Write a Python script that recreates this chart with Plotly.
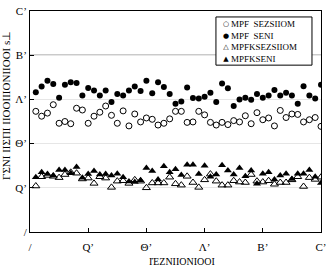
import plotly.graph_objects as go

x_vals = list(range(1, 51))

mpf_open_circ = [27.3, 26.2, 26.9, 28.8, 24.6, 25.0, 24.5, 28.0, 27.6, 24.6,
                 26.2, 27.1, 28.5, 26.4, 24.6, 27.4, 24.0, 26.7, 24.9, 25.8,
                 25.5, 24.2, 24.6, 25.6, 27.3, 27.3, 24.8, 24.9, 27.3, 26.5,
                 24.8, 24.2, 24.8, 24.3, 25.2, 24.9, 26.3, 24.5, 27.0, 25.4,
                 25.8, 24.0, 27.5, 25.9, 26.7, 26.6, 24.9, 25.4, 25.9, 23.9]

mpf_fill_circ = [31.6, 32.9, 34.2, 33.5, 30.4, 33.3, 33.9, 33.7, 30.9, 32.6,
                 32.0, 30.9, 32.0, 29.4, 31.2, 30.9, 32.0, 32.9, 31.9, 34.2,
                 31.4, 33.9, 32.8, 31.2, 29.0, 29.5, 32.7, 30.3, 30.2, 30.6,
                 31.5, 29.4, 33.6, 32.5, 28.5, 30.0, 30.4, 29.9, 31.2, 30.4,
                 30.9, 32.1, 30.9, 31.5, 30.9, 29.0, 33.0, 30.9, 30.2, 33.3]

mpfk_open_tri = [10.4, 12.5, 12.8, 12.6, 12.3, 13.0, 13.5, 13.3, 12.0, 12.2,
                 11.0, 12.5, 12.2, 10.1, 11.5, 11.6, 11.0, 11.8, 11.5, 10.0,
                 11.1, 11.1, 11.1, 12.4, 10.9, 10.6, 12.6, 11.2, 10.1, 11.8,
                 13.1, 11.5, 10.6, 10.6, 11.6, 11.3, 11.2, 13.0, 11.5, 11.3,
                 11.6, 10.8, 11.2, 11.2, 11.8, 12.5, 10.3, 12.3, 11.9, 12.4]

mpfk_fill_tri = [12.4, 13.5, 13.1, 12.8, 14.0, 14.0, 13.3, 14.7, 12.3, 13.1,
                 13.8, 13.0, 13.1, 12.8, 13.2, 12.4, 11.4, 11.3, 11.7, 14.5,
                 13.8, 11.9, 14.9, 13.5, 14.2, 12.9, 15.2, 15.2, 13.1, 15.0,
                 12.5, 13.0, 15.1, 13.9, 13.0, 14.5, 12.6, 13.9, 10.9, 13.2,
                 13.5, 11.9, 12.8, 13.2, 12.0, 13.2, 13.2, 14.0, 12.5, 11.1]

tick_vals = [0, 10, 20, 30, 40, 50]
tick_text = ["/", "Q\u2019", "\u0398\u2019", "\u039b\u2019", "B\u2019", "C\u2019"]

series_names = ["MPF  SEZSIIOM", "MPF  SENI", "MPFKSEZSIIOM", "MPFKSENI"]
legend_symbols = ["\u25cb", "\u25cf", "\u25b3", "\u25b2"]

x_title = "\u0399\u0388\u0396\u039d\u0399\u0399\u039f\u039d\u0399\u039f\u039f\u0399"
y_title = ("\u0393\u03a3\u039d\u0399 \u0399\u0399\u03a3\u03a0\u0399 "
           "\u0399\u0399\u039f\u039f\u0399\u0399\u0399\u039f\u039d\u0399\u0399\u039f\u039f\u0399 s\u22a5")

FONT = "Liberation Serif"

fig = go.Figure()
fig.add_trace(go.Scatter(x=x_vals, y=mpf_open_circ, mode="markers", name=series_names[0],
                         marker=dict(symbol="circle-open", size=6, color="black",
                                     line=dict(width=1, color="black"))))
fig.add_trace(go.Scatter(x=x_vals, y=mpf_fill_circ, mode="markers", name=series_names[1],
                         marker=dict(symbol="circle", size=6, color="black")))
fig.add_trace(go.Scatter(x=x_vals, y=mpfk_open_tri, mode="markers", name=series_names[2],
                         marker=dict(symbol="triangle-up-open", size=7, color="black",
                                     line=dict(width=1, color="black"))))
fig.add_trace(go.Scatter(x=x_vals, y=mpfk_fill_tri, mode="markers", name=series_names[3],
                         marker=dict(symbol="triangle-up", size=7, color="black")))

fig.add_hline(y=40, line=dict(color="#555555", width=1), layer="below")

# compact legend box drawn by hand (paper coordinates)
fig.add_shape(type="rect", xref="paper", yref="paper",
              x0=0.639, x1=0.969, y0=0.755, y1=0.973,
              line=dict(color="black", width=1), fillcolor="white", layer="above")
sym_text = "<br>".join("<span style='font-size:7px'>%s</span>" % s for s in legend_symbols)
name_text = "<br>".join(series_names)
fig.add_annotation(x=0.672, y=0.864, xref="paper", yref="paper", text=sym_text,
                   showarrow=False, xanchor="center", yanchor="middle", align="center",
                   font=dict(family="DejaVu Sans", size=9, color="black"), borderpad=0)
fig.add_annotation(x=0.688, y=0.864, xref="paper", yref="paper", text=name_text,
                   showarrow=False, xanchor="left", yanchor="middle", align="left",
                   font=dict(family=FONT, size=9, color="black"), borderpad=0)

# axis titles
fig.add_annotation(x=0.522, y=-0.133, xref="paper", yref="paper", text=x_title,
                   showarrow=False, xanchor="center", yanchor="middle",
                   font=dict(family=FONT, size=10, color="black"), borderpad=0)
fig.add_annotation(x=-0.0825, y=0.575, xref="paper", yref="paper", text=y_title,
                   showarrow=False, xanchor="center", yanchor="middle", textangle=-90,
                   font=dict(family=FONT, size=11, color="black"), borderpad=0)

axis_common = dict(range=[0, 50], tickvals=tick_vals, ticktext=tick_text,
                   showline=True, linecolor="black", linewidth=1, mirror=True,
                   ticks="inside", ticklen=4, tickcolor="black", zeroline=False,
                   automargin=False,
                   tickfont=dict(family=FONT, size=11, color="black"))

fig.update_layout(
    width=329, height=266,
    margin=dict(l=30, r=8, t=11, b=34),
    paper_bgcolor="white", plot_bgcolor="white",
    font=dict(family=FONT, color="black"),
    showlegend=False,
    xaxis=dict(**axis_common, showgrid=False, ticklabelstandoff=5),
    yaxis=dict(**axis_common, showgrid=True, gridcolor="#e6e6e6", gridwidth=1,
               ticklabelstandoff=0),
)

fig.write_html("out.html")
